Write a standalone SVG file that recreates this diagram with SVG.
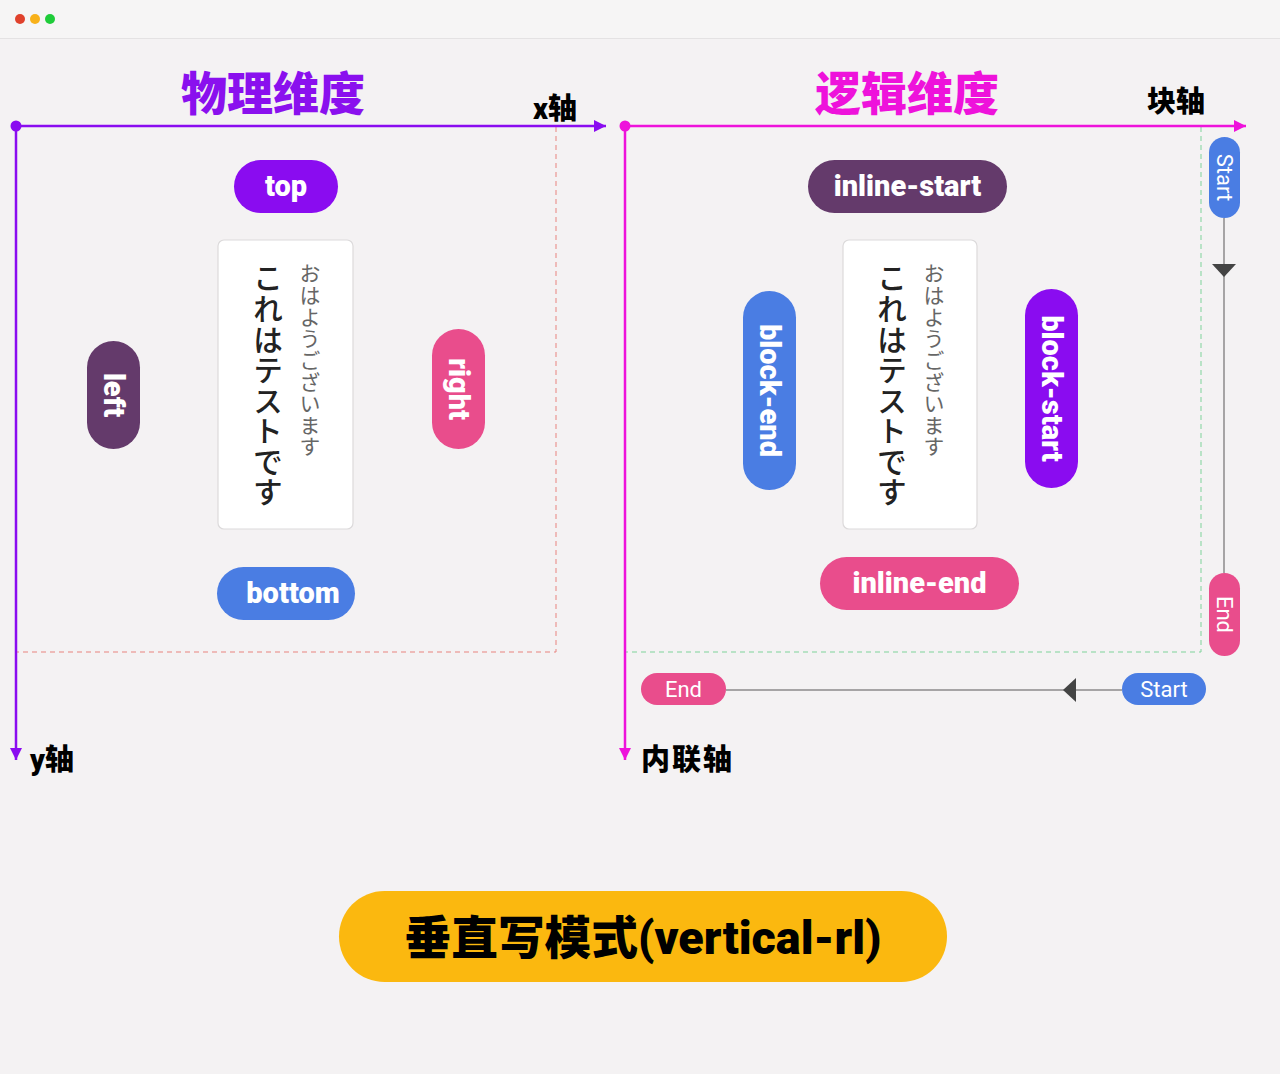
<svg xmlns="http://www.w3.org/2000/svg" width="1280" height="1074" viewBox="0 0 1280 1074">
<style>
.pill{font-family:Roboto,"Liberation Sans",sans-serif;font-weight:900;font-size:29px;fill:#fff;text-anchor:middle;dominant-baseline:central}
.small{font-family:Roboto,"Liberation Sans",sans-serif;font-weight:400;font-size:22px;fill:#fff;text-anchor:middle;dominant-baseline:central}
.title{font-family:"Noto Sans CJK SC",sans-serif;font-weight:900;font-size:46px;text-anchor:middle}
.axis{font-family:Roboto,"Noto Sans CJK SC",sans-serif;font-weight:900;font-size:29px;fill:#000}
.jp-big{font-family:"Noto Sans CJK JP",sans-serif;font-weight:500;font-size:30px;fill:#222;writing-mode:vertical-rl}
.jp-small{font-family:"Noto Sans CJK JP",sans-serif;font-size:21px;fill:#666;writing-mode:vertical-rl}
.card{fill:#fff;stroke:#dcdadb;stroke-width:1.2}
.blue{fill:#4a7de3}.pink{fill:#e94d8c}.violet{fill:#8a0cf0}.plum{fill:#643a6b}
</style>
<defs>
<marker id="arP" viewBox="0 0 10 10" refX="10" refY="5" markerWidth="12" markerHeight="12" markerUnits="userSpaceOnUse" orient="auto"><path d="M0,0L10,5L0,10z" fill="#8a0cf0"/></marker>
<marker id="arM" viewBox="0 0 10 10" refX="10" refY="5" markerWidth="12" markerHeight="12" markerUnits="userSpaceOnUse" orient="auto"><path d="M0,0L10,5L0,10z" fill="#ee12db"/></marker>
</defs>
<rect width="1280" height="1074" fill="#f4f2f3"/>
<rect x="0" y="0" width="1280" height="38" fill="#f6f5f5"/>
<line x1="0" y1="38.5" x2="1280" y2="38.5" stroke="#e4e2e3"/>
<circle cx="20" cy="19" r="5" fill="#e0412c"/>
<circle cx="35" cy="19" r="5" fill="#f8b11a"/>
<circle cx="50" cy="19" r="5" fill="#1fcc3a"/>

<text class="title" x="273" y="110" fill="#8a10ee">物理维度</text>
<text class="title" x="907" y="110" fill="#ee12db">逻辑维度</text>
<text class="axis" x="533" y="119">x轴</text>
<text class="axis" x="30" y="770">y轴</text>
<text class="axis" x="1147" y="112">块轴</text>
<text class="axis" x="641" y="770" textLength="91">内联轴</text>

<g id="connectors">
<path d="M556,127V652H17" fill="none" stroke="#e8837f" stroke-width="1" stroke-dasharray="5,4"/>
<path d="M1201,127V652H626" fill="none" stroke="#7fd39a" stroke-width="1" stroke-dasharray="5,4"/>
<line x1="16" y1="126" x2="606" y2="126" stroke="#8a0cf0" stroke-width="2.5" marker-end="url(#arP)"/>
<line x1="16" y1="126" x2="16" y2="760" stroke="#8a0cf0" stroke-width="2.5" marker-end="url(#arP)"/>
<circle cx="16" cy="126" r="5.5" fill="#8a0cf0"/>
<line x1="625" y1="126" x2="1246" y2="126" stroke="#ee12db" stroke-width="2.5" marker-end="url(#arM)"/>
<line x1="625" y1="126" x2="625" y2="760" stroke="#ee12db" stroke-width="2.5" marker-end="url(#arM)"/>
<circle cx="625" cy="126" r="5.5" fill="#ee12db"/>
<line x1="1224" y1="218" x2="1224" y2="573" stroke="#8c8a8b" stroke-width="1.5"/>
<path d="M1212,264H1236L1224,277z" fill="#444"/>
<line x1="726" y1="690" x2="1122" y2="690" stroke="#8c8a8b" stroke-width="1.5"/>
<path d="M1076,678V702L1063,690z" fill="#444"/>
</g>

<g id="top"><rect class="violet" x="234" y="160" width="104" height="53" rx="26.5"/><text class="pill" x="286" y="186">top</text></g>
<g id="bottom"><rect class="blue" x="217" y="567" width="138" height="53" rx="26.5"/><text class="pill" x="293" y="593">bottom</text></g>
<g id="left"><rect class="plum" x="87" y="341" width="53" height="108" rx="26.5"/><text class="pill" transform="translate(113.5,395) rotate(90)">left</text></g>
<g id="right"><rect class="pink" x="432" y="329" width="53" height="120" rx="26.5"/><text class="pill" transform="translate(458.5,389) rotate(90)">right</text></g>
<g id="card-physical"><rect class="card" x="218" y="240" width="135" height="289" rx="6"/>
<text class="jp-small" x="310" y="263" textLength="194">おはようございます</text>
<text class="jp-big" x="268" y="263" textLength="244">これはテストです</text></g>

<g id="inline-start"><rect class="plum" x="808" y="160" width="199" height="53" rx="26.5"/><text class="pill" x="907.5" y="186">inline-start</text></g>
<g id="inline-end"><rect class="pink" x="820" y="557" width="199" height="53" rx="26.5"/><text class="pill" x="919.5" y="583">inline-end</text></g>
<g id="block-end"><rect class="blue" x="743" y="291" width="53" height="199" rx="26.5"/><text class="pill" transform="translate(769.5,390.5) rotate(90)">block-end</text></g>
<g id="block-start"><rect class="violet" x="1025" y="289" width="53" height="199" rx="26.5"/><text class="pill" transform="translate(1051.5,388.5) rotate(90)">block-start</text></g>
<g id="card-logical"><rect class="card" x="843" y="240" width="134" height="289" rx="6"/>
<text class="jp-small" x="934" y="263" textLength="194">おはようございます</text>
<text class="jp-big" x="892" y="263" textLength="244">これはテストです</text></g>

<g id="block-axis-start"><rect class="blue" x="1209" y="137" width="31" height="81" rx="15.5"/><text class="small" transform="translate(1224.5,177.5) rotate(90)">Start</text></g>
<g id="block-axis-end"><rect class="pink" x="1209" y="573" width="31" height="83" rx="15.5"/><text class="small" transform="translate(1224.5,614.5) rotate(90)">End</text></g>
<g id="inline-axis-start"><rect class="blue" x="1122" y="673" width="84" height="32" rx="16"/><text class="small" x="1164" y="689">Start</text></g>
<g id="inline-axis-end"><rect class="pink" x="641" y="673" width="85" height="32" rx="16"/><text class="small" x="683.5" y="689">End</text></g>

<g id="banner"><rect x="339" y="891" width="608" height="91" rx="45.5" fill="#fbb80f"/>
<text x="643" y="954" text-anchor="middle" font-family="Roboto,'Noto Sans CJK SC',sans-serif" font-weight="900" font-size="46" fill="#000" textLength="477" lengthAdjust="spacingAndGlyphs">垂直写模式(vertical-rl)</text></g>
</svg>
